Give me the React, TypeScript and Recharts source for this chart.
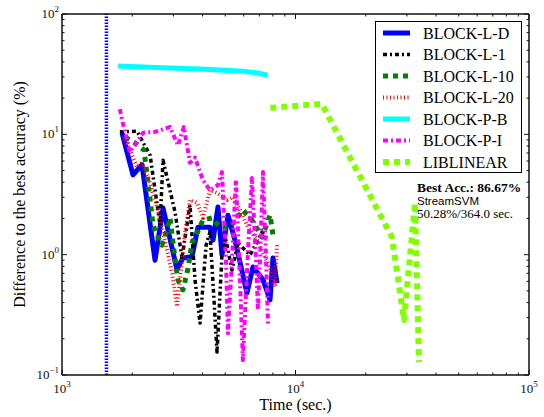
import React from 'react';
import { LineChart, Line, XAxis, YAxis, Legend, ReferenceLine } from 'recharts';

// [time (sec.), difference to the best accuracy (%)]
const BLOCK_L_D = [
  [1807, 10.3], [2014, 4.6], [2201, 5.6], [2502, 0.9], [2708, 2.44], [3107, 0.75],
  [3296, 0.94], [3603, 0.96], [3822, 1.69], [4303, 1.69], [4434, 1.32], [4656, 2.49],
  [4843, 1.0], [5138, 2.13], [5506, 1.32], [6196, 0.48], [6573, 0.79], [7256, 0.62],
  [7776, 0.42], [8009, 0.94], [8337, 0.58],
];
const BLOCK_L_1 = [
  [1770, 10.5], [2095, 10.6], [2384, 6.7], [2630, 1.76], [2708, 6.1], [3048, 2.26],
  [3265, 0.94], [3533, 2.58], [3713, 0.615], [3902, 0.27], [4141, 1.2], [4303, 1.54],
  [4477, 0.42], [4612, 0.155], [4843, 0.99], [5038, 1.32], [5346, 0.745], [5672, 1.25],
  [6383, 0.99], [7194, 1.54], [7630, 1.32],
];
const BLOCK_L_10 = [
  [1862, 9.5], [2054, 8.5], [2245, 7.4], [2384, 2.85], [2453, 1.76], [2577, 1.4],
  [2681, 1.2], [2789, 1.51], [2901, 2.02], [3078, 0.79], [3138, 0.615], [3296, 0.51],
  [3465, 0.77], [3603, 1.25], [3787, 1.51], [4015, 1.94], [4389, 2.02], [4750, 1.69],
  [5240, 1.69], [5953, 2.35], [6510, 1.94], [7194, 1.4], [7776, 2.13], [8009, 1.46],
];
const BLOCK_L_20 = [
  [1823, 9.5], [1953, 7.4], [2095, 5.35], [2201, 5.77], [2336, 4.41], [2577, 2.35],
  [2817, 1.09], [2961, 0.7], [3107, 0.37], [3363, 1.51], [3533, 2.85], [3787, 2.69],
  [4015, 2.02], [4303, 3.44], [4612, 3.25], [5093, 2.85], [5400, 3.01], [5785, 2.35],
  [6264, 1.69], [6844, 1.32], [7256, 1.03], [7776, 0.79], [8166, 0.54], [8337, 1.2],
];
const BLOCK_P_B = [
  [1740, 37], [2700, 35.8], [3900, 34.9], [5800, 33.6], [7000, 32.2], [7600, 31],
];
const BLOCK_P_I = [
  [1770, 16.2], [1823, 12.4], [1953, 7.1], [2224, 10.3], [2502, 10.5], [2901, 11.5],
  [3138, 8.1], [3326, 11.5], [3533, 5.8], [3713, 6.4], [4015, 4.17], [4303, 3.44],
  [4656, 3.79], [4843, 4.86], [5038, 0.9], [5138, 0.223], [5346, 0.9], [5559, 4.17],
  [5785, 0.615], [5953, 0.133], [6264, 1.09], [6510, 4.33], [6775, 0.9], [6907, 0.346],
  [7046, 0.9], [7256, 4.86], [7480, 0.9], [7630, 0.26],
];
const LIBLINEAR = [
  [7800, 16.6], [12970, 17.9], [25880, 1.4], [29170, 0.286], [32500, 2.69], [33800, 0.128],
];
const STREAM_TIME = 1550;

const X_TICKS = [
  1000, 2000, 3000, 4000, 5000, 6000, 7000, 8000, 9000,
  10000, 20000, 30000, 40000, 50000, 60000, 70000, 80000, 90000, 100000,
];
const Y_TICKS = [
  0.1, 0.2, 0.3, 0.4, 0.5, 0.6, 0.7, 0.8, 0.9,
  1, 2, 3, 4, 5, 6, 7, 8, 9,
  10, 20, 30, 40, 50, 60, 70, 80, 90, 100,
];

const SERIF = '"Liberation Serif", "Times New Roman", serif';
const SANS = '"Liberation Sans", Arial, sans-serif';
const AXIS = '#111';

const SERIES = [
  { name: 'BLOCK-L-D', data: BLOCK_L_D, color: '#0000ff', width: 5, dash: undefined },
  { name: 'BLOCK-L-1', data: BLOCK_L_1, color: '#000000', width: 3.5, dash: '4 3 2 3' },
  { name: 'BLOCK-L-10', data: BLOCK_L_10, color: '#007f00', width: 5, dash: '5 5' },
  { name: 'BLOCK-L-20', data: BLOCK_L_20, color: '#ff0000', width: 4, dash: '1 2.5' },
  { name: 'BLOCK-P-B', data: BLOCK_P_B, color: '#00ffff', width: 5, dash: undefined },
  { name: 'BLOCK-P-I', data: BLOCK_P_I, color: '#ff00ff', width: 4, dash: '5 3 2 3' },
  { name: 'LIBLINEAR', data: LIBLINEAR, color: '#7fff00', width: 6, dash: '6 5' },
];

const exponent = (v: number) => Math.round(Math.log10(v));
const isMajor = (v: number) => Math.abs(Math.log10(v) - exponent(v)) < 1e-6;
const supText = (v: number) => {
  const e = exponent(v);
  return e < 0 ? `\u2212${-e}` : `${e}`;
};

const BottomTick = ({ x, y, payload }: any) => {
  const major = isMajor(payload.value);
  return (
    <g>
      <line x1={x} y1={y} x2={x} y2={y - (major ? 5 : 2.5)} stroke={AXIS} />
      {major && (
        <text x={x} y={y + 18} textAnchor="middle" fontFamily={SERIF} fontSize={13} fill={AXIS}>
          <tspan>10</tspan>
          <tspan dy={-6} fontSize={9}>{supText(payload.value)}</tspan>
        </text>
      )}
    </g>
  );
};

const TopTick = ({ x, y, payload }: any) => {
  const major = isMajor(payload.value);
  return <line x1={x} y1={y} x2={x} y2={y + (major ? 5 : 2.5)} stroke={AXIS} />;
};

const LeftTick = ({ x, y, payload }: any) => {
  const major = isMajor(payload.value);
  return (
    <g>
      <line x1={x} y1={y} x2={x + (major ? 5 : 2.5)} y2={y} stroke={AXIS} />
      {major && (
        <text x={x - 3} y={y + 4} textAnchor="end" fontFamily={SERIF} fontSize={13} fill={AXIS}>
          <tspan>10</tspan>
          <tspan dy={-6} fontSize={9}>{supText(payload.value)}</tspan>
        </text>
      )}
    </g>
  );
};

const RightTick = ({ x, y, payload }: any) => {
  const major = isMajor(payload.value);
  return <line x1={x} y1={y} x2={x - (major ? 5 : 2.5)} y2={y} stroke={AXIS} />;
};

const LegendBox = () => (
  <svg width={147} height={152} style={{ display: 'block' }}>
    <rect x={0.5} y={0.5} width={146} height={151} fill="#fff" stroke="#000" />
    {SERIES.map((s, i) => {
      const cy = 12 + i * 21.5;
      return (
        <g key={s.name}>
          <line x1={8} x2={35} y1={cy} y2={cy} stroke={s.color} strokeWidth={s.width}
            strokeDasharray={s.dash} />
          <text x={48} y={cy + 5.5} fontFamily={SERIF} fontSize={16} fill="#000">{s.name}</text>
        </g>
      );
    })}
  </svg>
);

const toPoints = (rows: number[][]) => rows.map(([t, d]) => ({ t, d }));

export default function App() {
  return (
    <div style={{ position: 'relative', width: 544, height: 417 }}>
      <style>{'body { margin: 0; }'}</style>
      <LineChart width={544} height={417} margin={{ top: 13, right: 14, bottom: 0, left: 0 }}>
        <XAxis
          xAxisId="b" dataKey="t" type="number" scale="log" domain={[1000, 100000]}
          allowDataOverflow ticks={X_TICKS} interval={0} height={42}
          tickSize={0} tickMargin={0} tick={<BottomTick />}
          axisLine={{ stroke: AXIS, strokeWidth: 1.5 }}
          label={{
            content: ({ viewBox }: any) => (
              <text x={viewBox.x + viewBox.width / 2} y={410} textAnchor="middle"
                fontFamily={SERIF} fontSize={16} fill="#000">Time (sec.)</text>
            ),
          }}
        />
        <XAxis
          xAxisId="t" orientation="top" dataKey="t" type="number" scale="log"
          domain={[1000, 100000]} allowDataOverflow ticks={X_TICKS} interval={0} height={1}
          tickSize={0} tickMargin={0} tick={<TopTick />}
          axisLine={{ stroke: AXIS, strokeWidth: 1.5 }}
        />
        <YAxis
          yAxisId="l" type="number" scale="log" domain={[0.1, 100]} allowDataOverflow
          ticks={Y_TICKS} interval={0} width={62} tickSize={0} tickMargin={0}
          tick={<LeftTick />} axisLine={{ stroke: AXIS, strokeWidth: 1.5 }}
          label={{
            content: ({ viewBox }: any) => {
              const cy = viewBox.y + viewBox.height / 2;
              return (
                <text transform={`translate(25, ${cy}) rotate(-90)`} textAnchor="middle"
                  fontFamily={SERIF} fontSize={16} fill="#000">
                  Difference to the best accuracy (%)
                </text>
              );
            },
          }}
        />
        <YAxis
          yAxisId="r" orientation="right" type="number" scale="log" domain={[0.1, 100]}
          allowDataOverflow ticks={Y_TICKS} interval={0} width={1} tickSize={0}
          tickMargin={0} tick={<RightTick />} axisLine={{ stroke: AXIS, strokeWidth: 1.5 }}
        />
        <ReferenceLine xAxisId="b" yAxisId="l" x={STREAM_TIME} stroke="#0000ff"
          strokeWidth={3.5} strokeDasharray="1.5 1.5" />
        {SERIES.map((s) => (
          <Line
            key={s.name}
            xAxisId="b"
            yAxisId="l"
            name={s.name}
            data={toPoints(s.data)}
            dataKey="d"
            type="linear"
            stroke={s.color}
            strokeWidth={s.width}
            strokeDasharray={s.dash}
            strokeLinejoin="round"
            dot={false}
            activeDot={false}
            isAnimationActive={false}
          />
        ))}
        <Legend
          layout="horizontal" verticalAlign="middle" align="center"
          wrapperStyle={{ left: 375, top: 21, width: 147, height: 152 }}
          content={() => <LegendBox />}
        />
      </LineChart>
      <svg width={140} height={42}
        style={{ position: 'absolute', left: 417, top: 180, pointerEvents: 'none' }}>
        <text x={0} y={12} fontFamily={SERIF} fontWeight="bold" fontSize={13.5} fill="#000">
          Best Acc.: 86.67%
        </text>
        <text x={0} y={25} fontFamily={SANS} fontSize={11.5} fill="#000">StreamSVM</text>
        <text x={0} y={38} fontFamily={SERIF} fontSize={13} fill="#000">50.28%/364.0 sec.</text>
      </svg>
    </div>
  );
}
